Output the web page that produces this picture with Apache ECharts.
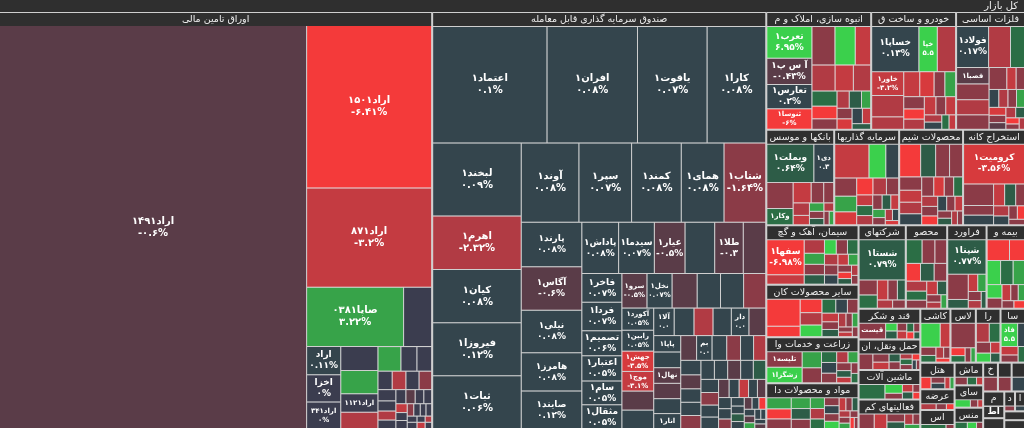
<!DOCTYPE html>
<html>
<head>
<meta charset="utf-8">
<script src="https://cdn.jsdelivr.net/npm/echarts@6/dist/echarts.min.js"></script>
<style>
  html, body { margin: 0; padding: 0; background: #2e2e2e; }
  #main { width: 1024px; height: 428px; }
</style>
</head>
<body>
<div id="main"></div>
<script>
// کل بازار - نقشه بازار
var rootName = 'کل بازار';

var sectorNames = [
  'اوراق تامین مالی', 'صندوق سرمایه گذاری قابل معامله', 'انبوه سازی، املاک و م', 'خودرو و ساخت ق',
  'فلزات اساسی', 'بانکها و موسس', 'سرمایه گذاریها', 'محصولات شیم', 'استخراج کانه',
  'سیمان، آهک و گچ', 'سایر محصولات کان', 'زراعت و خدمات وا', 'مواد و محصولات دا',
  'شرکتهای', 'محصولات', 'فراورد', 'بیمه و', 'قند و شکر', 'حمل ونقل، ان', 'ماشین آلات',
  'فعالیتهای کم', 'کاشی', 'لاست', 'رایان', 'سا', 'هتل و رس', 'عرضه', 'ماش', 'اس',
  'سایر واس', 'منسوجات', 'خدم', 'ساخت', 'پیما', 'م', 'اط', 'م', 'دب', 'ا', 'ا', 'م'
];
var sectorSizes = [
  178000, 137300, 12180, 9860, 8004, 6392, 6110, 6016, 5828, 5400, 4770, 4200, 4150,
  3888, 3402, 3240, 3159, 1870, 1860, 1800, 1790, 1600, 1350, 1310, 1300,
  900, 700, 640, 640, 630, 600, 420, 390, 380, 300, 255, 225, 210, 195, 180, 180
];

var leafNames = [
  ['اراد۱۴۹۱', 'اراد۱۵۰۱', 'اراد۸۷۱', 'صاپا۰۳۸۱', '', 'اراد۱۳۱۱', 'اخزا۲۰۲۱', 'اراد۳۴۱', '', '', 'اراد۱۱۲۱'],
  ['اعتماد۱', 'افران۱', 'یاقوت۱', 'کارا۱', 'لبخند۱', 'اهرم۱', 'کیان۱', 'فیروزا۱', 'ثبات۱',
   'آوند۱', 'سپر۱', 'کمند۱', 'همای۱', 'شتاب۱', 'پارند۱', 'آگاس۱', 'نیلی۱', 'هامرز۱', 'صایند۱',
   'پاداش۱', 'سیدما۱', 'عیار۱', '', 'طلا۱', '', 'فاخر۱', 'فردا۱', 'اعتبار۱', 'تصمیم۱', 'سام۱', 'مثقال۱',
   '', 'نخل۱', 'سرو۱', '', '', '', 'آکورد۱', 'رابین۱', 'جهش۱', 'موج۱', '', '', 'آلا۱', '', '', '',
   'دارا۱', '', 'پاپا۱', 'نهال۱', '', '', 'انار۱', '', '', 'بمان۱'],
  ['تعرب۱', 'آ س پ۱', 'تعارس۱', 'ثنوسا۱'],
  ['خساپا۱', 'خپارس۱', '', 'خاور۱'],
  ['فولاد۱', '', '', 'فصبا۱'],
  ['وبملت۱', 'دی۱', '', 'وکار۱'],
  [], [],
  ['کرومیت۱'],
  ['سفها۱'],
  [],
  ['تلیسه۱', 'زشگزا۱'],
  [],
  ['شستا۱'],
  [],
  ['شپنا۱'],
  [],
  ['قیستو۱'],
  [], [], [], [], [], [],
  ['فاذر۱'],
  [], [], [], [], [], [], [], [], [], [], [], [], [], [], [], []
];

var leafSizes = [
  [122610, 20125, 12300, 5700, 1650, 950, 920, 900, 880, 860, 680, 600,
   560, 390, 360, 260, 250, 240, 230, 200, 180, 160, 150, 140, 130, 120, 110, 100, 90, 90,
   80, 80, 70, 70, 60, 60, 50, 50, 40, 40],
  [13340, 10556, 8120, 6844, 6400, 4700, 4680, 4660, 4640, 4524, 4134, 3900, 3354, 3276,
   2680, 2600, 2560, 2300, 2250, 1872, 1820, 1560, 1508, 1456, 1144, 1140, 1130, 1000, 1000, 950, 940,
   860, 860, 860, 800, 790, 760,
   700, 660, 640, 620, 600, 580, 560, 540, 520, 500, 480, 460, 440, 420, 420, 410, 400, 400, 390, 380,
   360, 340, 320, 300, 290, 280, 270, 265, 260, 255, 250, 245, 240, 235, 230, 220, 210, 200, 190, 180,
   170, 160, 150, 140, 130, 120, 110, 100, 100, 90, 90, 80, 80, 70, 70, 60, 60, 50, 50, 50],
  [1395, 1125, 1035, 880, 860, 760, 575, 570, 450, 425, 360, 300, 250, 200, 200, 150, 150, 150, 150, 120, 100],
  [2070, 810, 800, 725, 650, 380, 380, 340, 255, 255, 240, 200, 200, 200, 170, 170, 120, 120, 100, 90],
  [1312, 900, 574, 520, 500, 480, 460, 380, 200, 180, 170, 160, 150, 140, 130, 120, 110, 100, 90, 80, 70, 60],
  [1800, 760, 672, 420, 360, 250, 200, 200, 150, 120, 100, 90, 80, 70, 60],
  [1040, 510, 390, 350, 300, 250, 240, 200, 180, 150, 140, 130, 120, 110, 100, 90, 80, 70, 60, 50],
  [693, 495, 460, 430, 290, 260, 250, 240, 230, 200, 180, 170, 160, 150, 140, 130, 120, 110, 100, 90, 80, 70],
  [2565, 670, 300, 300, 250, 250, 200, 160, 140, 120, 100, 90],
  [1400, 374, 306, 234, 220, 200, 190, 180, 170, 150, 140, 130, 120, 110, 100, 90, 80, 70, 60],
  [1180, 440, 396, 340, 320, 260, 220, 200, 180, 160, 150, 130, 110, 100, 90, 80, 70],
  [722, 684, 408, 360, 220, 200, 180, 170, 150, 140, 120, 100, 90, 80],
  [500, 420, 400, 380, 350, 300, 280, 250, 230, 220, 200, 190, 180, 160, 150, 140, 120, 110, 100, 90, 80, 70],
  [1800, 260, 230, 200, 180, 150, 120, 100],
  [400, 325, 300, 260, 250, 230, 210, 190, 170, 150, 130, 110, 90, 80],
  [1500, 575, 200, 180, 160, 130, 110, 90],
  [483, 323, 322, 300, 272, 200, 150, 140, 120, 100, 90, 80],
  [528, 120, 110, 100, 90, 80, 70, 60, 50],
  [345, 225, 180, 150, 130, 110, 100, 90, 80, 60, 50],
  [595, 252, 150, 130, 110, 90, 70],
  [300, 250, 200, 150, 120, 100, 80],
  [620, 310, 160, 130, 110, 90, 70],
  [672, 120, 100, 90, 70],
  [300, 250, 180, 150, 120, 100],
  [360, 150, 130, 110, 90],
  [200, 150, 120, 100, 80],
  [180, 120, 90],
  [160, 120, 80],
  [250, 80],
  [250, 120, 80],
  [200, 150, 100],
  [100], [100], [100], [100], [100], [100], [100], [100], [100], [100]
];

var leafChanges = [
  [-0.6, -6.41, -3.2, 3.22, 0, 0.11, 0, 0, 0, 3.1, 0, -2.6,
   2.5, 0, 0, 0, -2.6, 0, -1.5, 0, 0, -2.8, 0, 0, -0.8, 0, 0, -3, 0, 0,
   0, -1.5, 0, 0, 0, 0, -3.2, 0, 0, -2],
  [0.1, 0.08, 0.07, 0.08, 0.09, -2.32, 0.08, 0.12, 0.06, 0.08, 0.07, 0.08, 0.08, -1.64,
   0.08, -0.6, 0.08, 0.08, 0.12, 0.08, 0.07, -0.5, 0.05, -0.3, -0.8, 0.07, 0.07, 0.05, 0.06, 0.05, 0.05,
   -0.7, 0.07, -0.5, 0.05, 0.05, -1.2,
   0.05, 0.05, -3.5, -3.1, -0.8, 0.05, 0.05, 0.05, -2.6, 0.05, 0.05, -0.7, 0.05, -0.7, 0.05, -0.8, 0.05, 0.05, -0.7, 0.05,
   0.05, -1.2, 0.05, -2.6, 0.05, -0.8, 0.05, 0.05, -1.3, 0.05, 0.05, -0.8, 0.05, 0.7, 0.05, -1.2, 0.05, 0.05, -0.8, 0.05,
   -3, 0.05, -0.8, 0.05, 0.05, -1.3, 0.05, 0.6, 0.05, -0.8, 0.05, -5, 0.05, -0.8, 0.05, 0.05, 3, -0.8, 0.05, 0.05],
  [6.95, -0.43, 0.2, -6, -1.2, 6.5, -3, -2.6, -3, -2.8, 1.5, -6, -1, 0.8, -2.7, 0.2, -4, -1.2, 2, -3, 0.6],
  [0.13, 5.5, -2.6, -3.2, -2.4, -3.2, -2.8, -3.4, 4, -1.4, -1.5, -3, -2.5, -6, -3.3, -1.2, 0.1, -2.7, 1.2, -3],
  [0.17, -2.3, 1.2, -0.8, -1.5, -2.4, -1.8, -1.2, -3, -1.5, 0.3, -2.6, -1, 2.5, -3.5, -1.4, -0.8, -2, 0.6, -5, -1.6, -2.2],
  [0.64, 0.3, -1.1, 1.3, -3.3, -1.4, -2.4, -1.2, -3, 2.5, -1.5, 0.7, -2.5, -1, 3],
  [-3.2, 6, 0.2, -1.3, 3, -3.4, -6, -2.9, -1.2, -3.2, 1.3, -2, -1.2, 0.7, -3, 4, -1.5, -2.2, 0.3, -4],
  [-6, 0.8, -1.6, -1.3, -1.2, -3.3, -2.6, 0.2, -1.4, -4, -1, 1, -2.5, -1.3, -6, 0.1, -1.5, -3, -1.2, 0.8, -2.6, -1.2],
  [-3.56, -1, 0.2, -1.4, 0.9, -3.3, -1.2, -2.5, 0.1, -1.3, -6, -1.8],
  [-6.98, -3.2, -2.6, 2.2, -1.3, 0.8, 6, -1.5, 1.5, -2.7, -1.2, 0.3, -3, 2.5, -1.4, -6, 0.8, -2, -1.1],
  [-6.5, -5.5, -6, -2.6, 5.5, 1.3, 0.1, -1.3, -3.2, -1.2, 0.7, -2.3, -1, 3, -1.4, -3, -1.3],
  [-1.5, 5.5, 4.5, -1.4, 1.3, 0.2, -1.4, -2.5, 2.5, -1.2, 0.5, -3, -1.3, 1.8],
  [2.5, -6, -1.3, 4, 0.8, -1.4, 2.8, -2.6, 1.2, -1.5, 0.3, -1.2, 5, -3, -1.3, 0.7, -2.4, -1.2, 3, -1.6, -5, -1.2],
  [0.79, -1.3, 1.5, -3, -1.2, 0.8, -2.5, -1.4],
  [1.3, -1.5, -1.3, -6, 0.8, -1.5, -2.7, 1.2, -1.3, -3.3, 0.6, -1.4, -2.5, 2],
  [0.77, -1.4, 0.9, -3.2, 4, -1.3, -2.6, 0.5],
  [-6, -6, 5.5, 1.2, 4.8, 6, -1.4, -3.2, -1.2, 2.5, -1.5, -6],
  [-1.5, 5, 0.8, -1.4, -3.3, 1.2, -1.2, -6, 0.5],
  [-1.5, -1.3, -3.2, 0.7, -1.4, -2.5, 1.2, -1.2, -6, 0.3, -1.5],
  [1.2, 5, -1.4, -3.2, 0.8, -1.3, -6],
  [-1.5, -3.2, -1.3, 0.7, -2.5, -1.4, 4],
  [5.5, -3.2, -1.4, 1.2, -2.5, -1.3, -6],
  [-1.5, -6, 1.2, -1.3, 4.5],
  [-2.3, 1.2, -1.4, 5, -3.2, 0.7],
  [5.5, 0.2, -3.2, -1.4, 1.2],
  [-6, -1.4, 0.3, -3.2, 2],
  [-2.5, -1.3, -6],
  [-1.4, 1.2, -3],
  [1.2, -1.3],
  [5.5, -1.4, -3],
  [1.2, 5, -1.4],
  [-1.3], [-1.4], [0.2], [-1.3], [-1.4], [0.2], [-1.3], [0.2], [0.2], [0.2]
];

var FONT = 'DejaVu Sans';

function faDigits(s) {
  return String(s).replace(/\d/g, function (d) { return '۰۱۲۳۴۵۶۷۸۹'[d]; });
}

function colorOf(c) {
  if (c >= 5) return '#3bd04c';
  if (c >= 2) return '#37a349';
  if (c >= 1) return '#2b6e45';
  if (c >= 0.5) return '#2d5c47';
  if (c > 0) return '#34454d';
  if (c === 0) return '#3b3d4f';
  if (c > -0.3) return '#4c3d4b';
  if (c > -1) return '#5a3c48';
  if (c > -2) return '#8b3b47';
  if (c > -3) return '#b13b44';
  if (c > -3.4) return '#c43b41';
  if (c > -5) return '#d73a3d';
  return '#f43a3a';
}

var sectors = sectorNames.map(function (name, i) {
  return {
    name: name,
    value: sectorSizes[i],
    children: leafSizes[i].map(function (size, j) {
      var c = leafChanges[i][j];
      var fs = size > 3000 ? 10 : size > 900 ? 9 : 7;
      return {
        name: leafNames[i][j] || '',
        value: [size, c],
        itemStyle: { color: colorOf(c) },
        label: { fontSize: fs, lineHeight: fs + 2 }
      };
    })
  };
});

var myChart = echarts.init(document.getElementById('main'));

var option = {
  backgroundColor: '#2e2e2e',
  animation: false,
  tooltip: { show: false },
  series: [{
    type: 'treemap',
    left: 0, top: 0, right: 0, bottom: 0,
    width: '100%', height: '100%',
    roam: false,
    nodeClick: false,
    breadcrumb: { show: false },
    sort: 'desc',
    visibleMin: 4,
    label: {
      show: true,
      position: 'inside',
      color: '#ffffff',
      fontFamily: FONT,
      fontWeight: 'bold',
      fontSize: 9,
      padding: 0,
      overflow: 'truncate',
      ellipsis: '',
      formatter: function (p) {
        if (!p.name) return '';
        return p.name + '\n' + faDigits(p.value[1]) + '%';
      }
    },
    levels: [
      { itemStyle: { borderWidth: 0, gapWidth: 0, borderColor: '#2e2e2e' } },
      {
        itemStyle: { borderWidth: 0, gapWidth: 2, borderColor: '#cfcfcf', color: '#303030' },
        upperLabel: {
          show: true, height: 13,
          position: 'insideRight', distance: 0,
          padding: [0, 6, 0, 0],
          color: '#f0f0f0', fontFamily: FONT, fontSize: 10,
          backgroundColor: '#2f2f2f',
          borderColor: '#cfcfcf', borderWidth: 1,
          formatter: '{b}'
        }
      },
      {
        itemStyle: { borderWidth: 0, gapWidth: 1, borderColor: '#cfcfcf', color: '#303030' },
        upperLabel: {
          show: true, height: 13,
          position: 'inside',
          padding: [0, 1],
          color: '#f0f0f0', fontFamily: FONT, fontSize: 9.5,
          backgroundColor: '#2f2f2f',
          borderColor: '#cfcfcf', borderWidth: 1,
          overflow: 'truncate', ellipsis: '',
          formatter: '{b}'
        }
      },
      { itemStyle: { borderWidth: 0, gapWidth: 0 } }
    ],
    data: [{ name: rootName, children: sectors }]
  }]
};

if (option && typeof option === 'object') {
  myChart.setOption(option, true);
}
</script>
</body>
</html>
